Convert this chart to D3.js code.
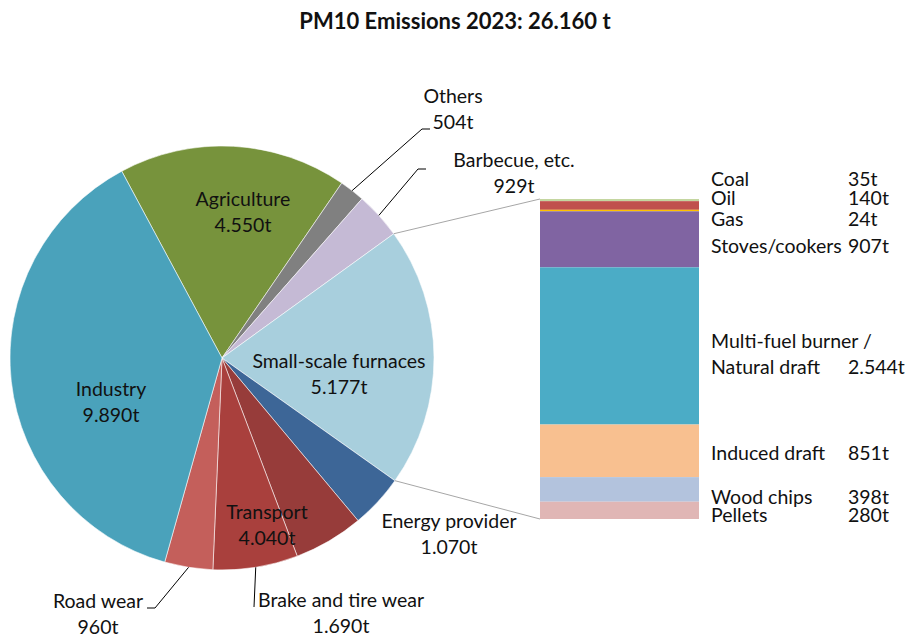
<!DOCTYPE html>
<html>
<head>
<meta charset="utf-8">
<script src="https://cdn.jsdelivr.net/npm/d3@7"></script>
<style>
  html, body { margin: 0; padding: 0; background: #fff; }
  svg { display: block; }
  text { font-family: Lato, "Open Sans", sans-serif; fill: #111; }
</style>
</head>
<body>
<svg id="chart" width="907" height="639"></svg>
<script>
// ---- data -------------------------------------------------------------
const titleText = "PM10 Emissions 2023";

const pieCategories = [
  "Agriculture", "Others", "Barbecue, etc.", "Small-scale furnaces",
  "Energy provider", "Exhaust", "Brake and tire wear", "Road wear", "Industry"
];
const pieValues = [4550, 504, 929, 5177, 1070, 1390, 1690, 960, 9890];
const pieColors = [
  "#77933c", "#808080", "#c5bad5", "#a8cfdd",
  "#3d6697", "#973c3a", "#a9403d", "#c45f5b", "#4aa2bb"
];
// slices that together form the "Transport" group
const transportGroup = ["Exhaust", "Brake and tire wear", "Road wear"];

const barCategories = [
  "Coal", "Oil", "Gas", "Stoves/cookers",
  "Multi-fuel burner / Natural draft", "Induced draft", "Wood chips", "Pellets"
];
const barValues = [35, 140, 24, 907, 2544, 851, 398, 280];
const barColors = [
  "#c4d6a0", "#c0504d", "#ffc000", "#8064a2",
  "#4bacc6", "#f8c090", "#b3c3dd", "#e0b6b5"
];

// ---- formatting -------------------------------------------------------
const de = d3.formatLocale({ decimal: ",", thousands: ".", grouping: [3], currency: ["", " €"] });
const fmt = de.format(",d");
const tons = v => fmt(v) + "t";

// ---- layout -----------------------------------------------------------
const svg = d3.select("#chart");
const cx = 222, cy = 358, R = 212;
const startAngle = -0.4925;
const lineGap = 26;

const pie = d3.pie().sort(null).value(d => d.value)
  .startAngle(startAngle).endAngle(startAngle + 2 * Math.PI);
const pieData = pie(pieCategories.map((c, i) => ({ name: c, value: pieValues[i], color: pieColors[i] })));
const arc = d3.arc().innerRadius(0).outerRadius(R);
const total = d3.sum(pieValues);

// title
svg.append("text")
  .attr("x", 455).attr("y", 29)
  .attr("text-anchor", "middle")
  .style("font-weight", "bold").style("font-size", "22px")
  .text(`${titleText}: ${fmt(total)} t`);

const g = svg.append("g").attr("transform", `translate(${cx},${cy})`);

g.selectAll("path.slice").data(pieData).join("path")
  .attr("class", "slice")
  .attr("d", arc)
  .attr("fill", d => d.data.color)
  .attr("stroke", "rgba(255,255,255,0.7)")
  .attr("stroke-width", 0.8);

// point on the rim at the middle of a slice
const rimPoint = d => {
  const a = (d.startAngle + d.endAngle) / 2;
  return [cx + R * Math.sin(a), cy - R * Math.cos(a)];
};
const byName = name => pieData.find(d => d.data.name === name);

// ---- breakout bar for small-scale furnaces ----------------------------
const barX0 = 540, barX1 = 699, barTop = 199, barBottom = 519;
const barTotal = d3.sum(barValues);
const yBar = d3.scaleLinear().domain([0, barTotal]).range([barTop, barBottom]);
const stacked = [];
barValues.reduce((acc, v, i) => {
  stacked.push({ name: barCategories[i], value: v, y0: acc, y1: acc + v, color: barColors[i] });
  return acc + v;
}, 0);

// connector lines from the exploded slice to the bar
const sf = byName("Small-scale furnaces");
const pA = [cx + R * Math.sin(sf.startAngle), cy - R * Math.cos(sf.startAngle)];
const pB = [cx + R * Math.sin(sf.endAngle), cy - R * Math.cos(sf.endAngle)];
svg.append("line").attr("x1", pA[0]).attr("y1", pA[1]).attr("x2", barX0).attr("y2", yBar(0))
  .attr("stroke", "#a6a6a6").attr("stroke-width", 1);
svg.append("line").attr("x1", pB[0]).attr("y1", pB[1]).attr("x2", barX0).attr("y2", yBar(barTotal))
  .attr("stroke", "#a6a6a6").attr("stroke-width", 1);

svg.selectAll("rect.seg").data(stacked).join("rect")
  .attr("class", "seg")
  .attr("x", barX0).attr("width", barX1 - barX0)
  .attr("y", d => yBar(d.y0))
  .attr("height", d => yBar(d.y1) - yBar(d.y0))
  .attr("fill", d => d.color);

// bar labels: name column and value column, with baseline positions
const barLabelPos = {
  "Coal": [186],
  "Oil": [205],
  "Gas": [226],
  "Stoves/cookers": [253],
  "Multi-fuel burner / Natural draft": [348, 374],
  "Induced draft": [460],
  "Wood chips": [504],
  "Pellets": [522]
};
const barFont = "19.5px";
stacked.forEach(d => {
  const ys = barLabelPos[d.name];
  const lines = ys.length > 1 ? ["Multi-fuel burner /", "Natural draft"] : [d.name];
  lines.forEach((t, i) => {
    svg.append("text").attr("x", 711).attr("y", ys[i]).style("font-size", barFont).text(t);
  });
  svg.append("text").attr("x", 848).attr("y", ys[ys.length - 1]).style("font-size", barFont).text(tons(d.value));
});

// ---- pie labels -------------------------------------------------------
const pieFont = "19.5px";
function label(x, y, lines) {
  const t = svg.append("text").attr("text-anchor", "middle").style("font-size", pieFont);
  lines.forEach((s, i) => t.append("tspan").attr("x", x).attr("y", y + i * lineGap).text(s));
}
const val = name => byName(name).data.value;

label(243, 206, ["Agriculture", tons(val("Agriculture"))]);
label(111, 396, ["Industry", tons(val("Industry"))]);
label(339, 368, ["Small-scale furnaces", tons(val("Small-scale furnaces"))]);
label(449, 528, ["Energy provider", tons(val("Energy provider"))]);
label(267, 519, ["Transport", tons(d3.sum(transportGroup, val))]);
label(341, 607, ["Brake and tire wear", tons(val("Brake and tire wear"))]);
label(98, 608, ["Road wear", tons(val("Road wear"))]);
label(453, 103, ["Others", tons(val("Others"))]);
label(514, 167, ["Barbecue, etc.", tons(val("Barbecue, etc."))]);

// leader lines
const leader = (name, pts) => {
  svg.append("path")
    .attr("d", d3.line()([rimPoint(byName(name)), ...pts]))
    .attr("fill", "none").attr("stroke", "#000").attr("stroke-width", 1);
};
leader("Others", [[422, 129], [430, 129]]);
leader("Barbecue, etc.", [[418, 169], [426, 169]]);
leader("Brake and tire wear", [[254, 607]]);
leader("Road wear", [[155, 608], [147, 608]]);
</script>
</body>
</html>
